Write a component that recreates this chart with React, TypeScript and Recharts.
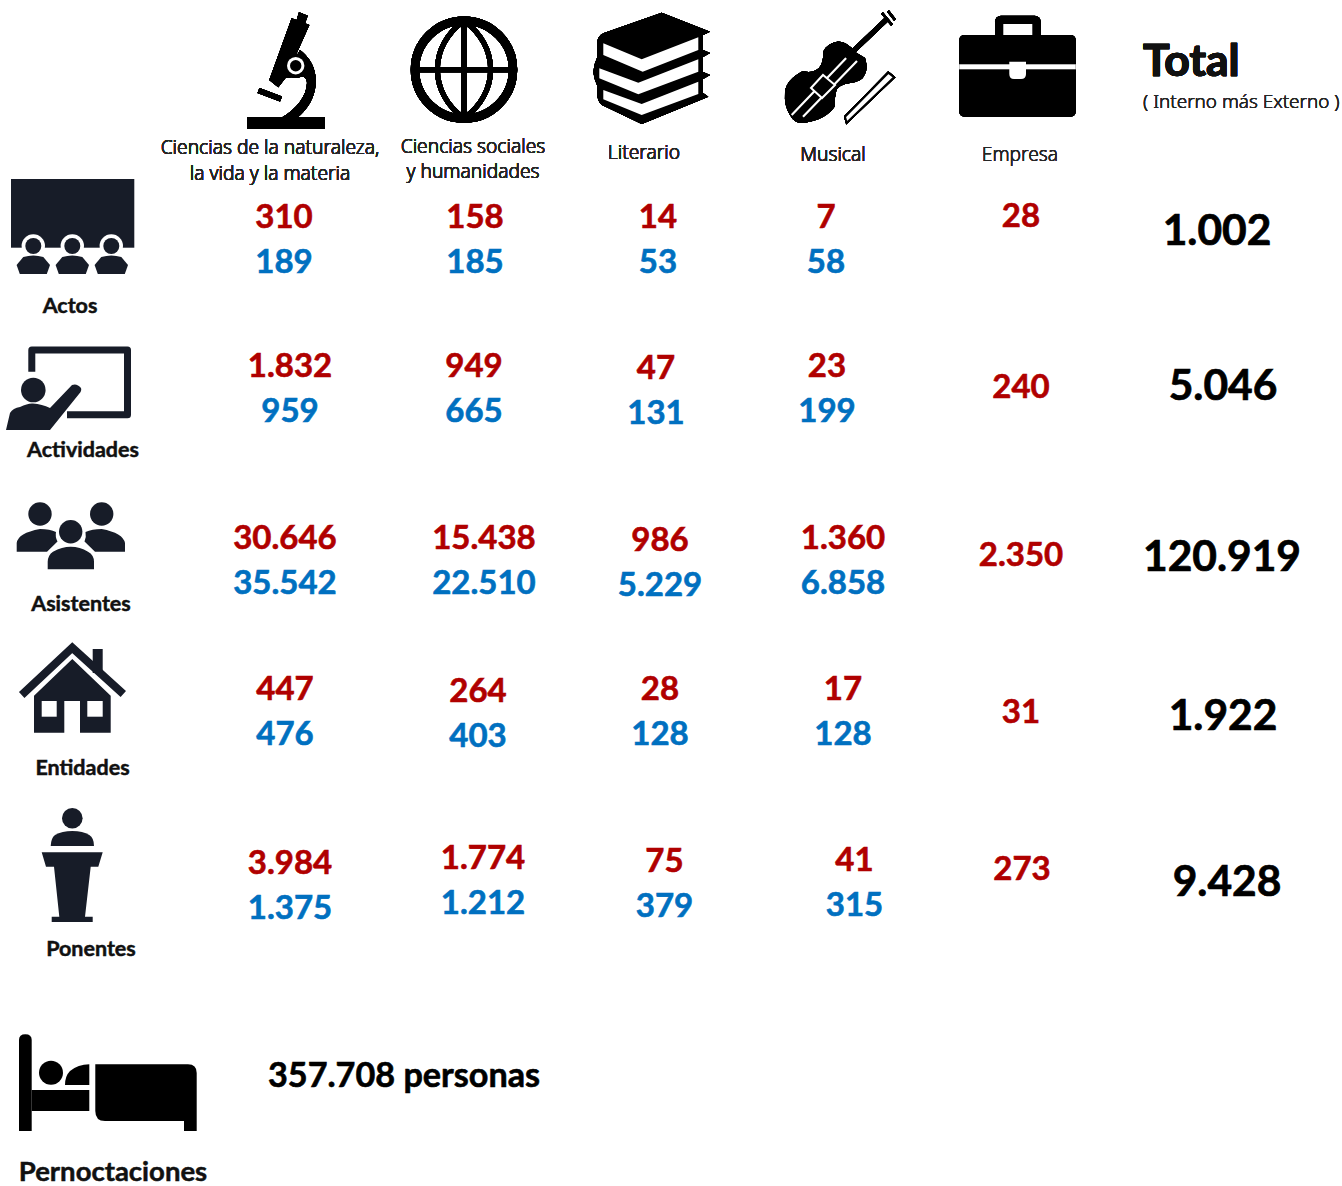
import React from 'react';
import { ScatterChart, Scatter, XAxis, YAxis } from 'recharts';

const columns = ['Naturaleza', 'Sociales', 'Literario', 'Musical', 'Empresa', 'Total'];
const rows = ['Actos', 'Actividades', 'Asistentes', 'Entidades', 'Ponentes', 'Pernoctaciones'];

// one list per row, in column order
const interno = [
  [310, 158, 14, 7, 28],
  [1832, 949, 47, 23, 240],
  [30646, 15438, 986, 1360, 2350],
  [447, 264, 28, 17, 31],
  [3984, 1774, 75, 41, 273],
];
const externo = [
  [189, 185, 53, 58],
  [959, 665, 131, 199],
  [35542, 22510, 5229, 6858],
  [476, 403, 128, 128],
  [1375, 1212, 379, 315],
];
const totals = [1002, 5046, 120919, 1922, 9428];
const pernoctaciones = 357708;

const RED = '#b00000';
const BLUE = '#0070c0';
const NAVY = '#171c28';
const BOLD_FONT = 'Lato, sans-serif';
const LIGHT_FONT = '"Noto Sans", sans-serif';

// The reference is hand placed, so every cell sits a little off the grid: [dx, dy]
const cellNudge = [
  [[0, -1], [4, -1], [0, -1], [-19, -1], [-11, -24], [-2, -10]],
  [[6, -19], [3, -19], [-2, -17], [-18, -19], [-11, -20], [4, -21.5]],
  [[1, -14.5], [13, -14.5], [2, -12.5], [-2, -14.5], [-11, -20], [3, -18.5]],
  [[1, -31], [7, -28.5], [2, -31], [-2, -31], [-11, -30.5], [4, -27]],
  [[6, -24.5], [12, -29.5], [6.5, -26.5], [9.5, -27.5], [-10, -41], [8, -28.5]],
];

const format = (v: number) => String(v).replace(/\B(?=(\d{3})+$)/g, '.');

const toPoints = (table: number[][]) =>
  table.flatMap((list, r) => list.map((value, c) => ({ column: columns[c], row: rows[r], value })));

const internoData = toPoints(interno);
const externoData = toPoints(externo);
const totalData = totals.map((value, r) => ({ column: 'Total', row: rows[r], value }));
const stayData = [{ column: columns[0], row: rows[5], value: pernoctaciones }];

// Lato bold is lighter than the reference face, a thin outline brings it closer
const heavy = (color: string, width = 0.6) => ({
  fontFamily: BOLD_FONT,
  fontWeight: 700,
  fill: color,
  stroke: color,
  strokeWidth: width,
});

const valueShape = (color: string, offset: number) => (props: any) => {
  const { column, row, value } = props.payload;
  const c = columns.indexOf(column);
  const r = rows.indexOf(row);
  const [dx, dy] = cellNudge[r][c];
  // Empresa has a single figure in the middle of its row
  const shift = c === 4 ? 0 : offset;
  return (
    <text
      x={props.cx + dx}
      y={props.cy + dy + shift}
      textAnchor="middle"
      dominantBaseline="central"
      fontSize={33}
      {...heavy(color)}
    >
      {format(value)}
    </text>
  );
};

const totalShape = (props: any) => {
  const r = rows.indexOf(props.payload.row);
  const [dx, dy] = cellNudge[r][5];
  return (
    <text
      x={props.cx + dx}
      y={props.cy + dy}
      textAnchor="middle"
      dominantBaseline="central"
      fontSize={42.5}
      {...heavy('#000', 0.7)}
    >
      {format(props.payload.value)}
    </text>
  );
};

const stayShape = (props: any) => (
  <text x={props.cx - 16} y={props.cy - 1.5} dominantBaseline="central" fontSize={34.2} {...heavy('#000')}>
    {format(props.payload.value)} personas
  </text>
);

// Icons are traced in page coordinates
const Microscope = () => (
  <g fill="#000">
    <rect x={247} y={117.5} width={78} height={11} />
    <path d="M300,50 C315,62 316,75 315.7,83 C315,98 307,110 297,118 L281,118 C297,109 307,95 307,83 C307,78 304,76 300,76 L285,78 Z" />
    <path d="M299,12.3 L307.7,15.7 L305,23.3 L296.7,20 Z" />
    <path d="M291.7,18.3 L309.3,25 L286,77.3 L278.3,87.3 L269.3,80 Z" />
    <circle cx={295.7} cy={65.7} r={12} />
    <circle cx={295.7} cy={65.7} r={8.7} fill="#fff" />
    <circle cx={295.7} cy={65.7} r={5.7} />
    <path d="M258.5,90.5 L281,99" stroke="#000" strokeWidth={5.5} />
  </g>
);

const Globe = () => (
  <g fill="none" stroke="#000">
    <circle cx={464} cy={69.7} r={49} strokeWidth={8.5} />
    <path d="M464,21 C428.5,46 428.5,93 464,118 C499.5,93 499.5,46 464,21" strokeWidth={5} />
    <path d="M464,21 L464,118 M415,69.7 L513,69.7" strokeWidth={5} />
  </g>
);

const Books = () => (
  <g>
    <path
      d="M661.7,12.7 L710,31.7 L703,35 L703,50 L710,53 L703,57 L703,72 L710,75 L703,79 L703,93 L708.3,96.7 L641.7,124 L602,105 Q597,101 597,92 L597,85 Q590,72 597,58 L597,44 Q597,36 604,33 Z"
      fill="#000"
    />
    <path d="M603.3,43.3 L641.7,59.3 L698.3,37.3 L698.3,50 L642.7,71.7 L603.3,55 Z" fill="#fff" />
    <path d="M599.3,68.3 L638.3,82.7 L698.3,59.3 L698.3,71.7 L638.3,94.3 L599.3,78.3 Z" fill="#fff" />
    <path d="M603.3,90 L641.7,104 L698.3,81.7 L698.3,94 L641.7,115 L603.3,99.3 Z" fill="#fff" />
  </g>
);

const Violin = () => (
  <g>
    <path
      d="M823,52 Q826,44 838,41.5 Q848,42 855,52 L865,58 Q868,68 865,74 Q862,82 850,83 Q837,85 836,92 Q834,99 835,106 Q826,120 803,123 Q795,124 790,115 Q784,106 785,92 Q786,80 803,71 Q812,74 819,68 Q824,62 823,52 Z"
      fill="#000"
    />
    <path d="M791.7,115 L851,53 M803,116.7 L857,61" stroke="#fff" strokeWidth={2.2} />
    <path d="M846,58 L887,19" stroke="#000" strokeWidth={5} />
    <path d="M882,13 L892,25 M888,11 L895,20" stroke="#000" strokeWidth={2.5} />
    <path d="M811,88 L823,75 L835,85 L822,98 Z" fill="#000" stroke="#fff" strokeWidth={2} />
    <path d="M845,116.7 L888.3,72.7 L894,77.3 L846.7,122.7 Z" fill="#fff" stroke="#000" strokeWidth={2} />
  </g>
);

const Briefcase = () => (
  <g>
    <rect x={995} y={15.7} width={45.7} height={30} rx={6} fill="#000" />
    <rect x={1003.3} y={24} width={29} height={14} fill="#fff" />
    <rect x={959.3} y={35} width={116.4} height={81.7} rx={5} fill="#000" />
    <rect x={959.3} y={64.3} width={116.4} height={5} fill="#fff" />
    <path d="M1009.3,61.7 L1026,61.7 L1026,74 Q1026,79 1021,79 L1014,79 Q1009.3,79 1009.3,74 Z" fill="#fff" />
  </g>
);

const Person = ({ cx }: { cx: number }) => (
  <g>
    <circle cx={cx} cy={246} r={11.7} fill="#fff" />
    <circle cx={cx} cy={246} r={8} fill={NAVY} />
    <path
      d={`M${cx - 16.7},265 L${cx - 10},257 Q${cx},254 ${cx + 10},257 L${cx + 16.7},265 L${cx + 13.5},274 L${cx - 13.5},274 Z`}
      fill={NAVY}
    />
  </g>
);

const Actos = () => (
  <g>
    <rect x={11} y={179} width={123.3} height={68.7} fill={NAVY} />
    <Person cx={33.3} />
    <Person cx={72.3} />
    <Person cx={111.3} />
  </g>
);

const Actividades = () => (
  <g fill={NAVY}>
    <path
      d="M31.8,371.7 L31.8,350 L127.5,350 L127.5,414.7 L67,414.7"
      fill="none"
      stroke={NAVY}
      strokeWidth={7}
      strokeLinejoin="round"
    />
    <circle cx={33.3} cy={390} r={12.3} />
    <path d="M6,430 L10,413 Q13,408 20,407 Q28,403 33,403.5 Q42,404 50,408 L72,385 Q77,383 81,388 Q82,391 79,394 L50,430 Z" />
  </g>
);

const Asistentes = () => (
  <g fill={NAVY}>
    <circle cx={40} cy={514} r={11.7} />
    <circle cx={101.7} cy={514} r={11.7} />
    <circle cx={70.7} cy={531.7} r={11.7} />
    <path d="M16.7,551.7 L16.7,543 Q18,533 40,529 Q50,529 56,532 Q55,537 57.5,541.5 L47,551.7 Z" />
    <path d="M125,551.7 L125,543 Q123,533 101.7,529 Q92,529 85.5,532 Q86.5,537 84.5,541.5 L95,551.7 Z" />
    <path d="M47.7,569.3 L47.7,561.7 Q48,555 53,551.7 Q62,546.7 70.7,546.7 Q80,546.7 88,551.7 Q94,555 94,561.7 L94,569.3 Z" />
  </g>
);

const Entidades = () => (
  <g fill={NAVY}>
    <rect x={92.7} y={649} width={10} height={24} />
    <path d="M21.7,695 L72.3,647.7 L123.3,694" fill="none" stroke={NAVY} strokeWidth={8} />
    <path d="M34,695.7 L72.3,659 L110.7,695.7 L110.7,732.7 L80,732.7 L80,701 L64.3,701 L64.3,732.7 L34,732.7 Z" />
    <rect x={41.7} y={701} width={15} height={15.7} fill="#fff" />
    <rect x={87.3} y={701} width={15.4} height={15.7} fill="#fff" />
  </g>
);

const Ponentes = () => (
  <g fill={NAVY}>
    <circle cx={72.3} cy={818.3} r={10.3} />
    <path d="M50.7,846 Q51,838 55,835 Q62,831 72.3,831 Q83,831 89.3,835 Q94,838 94,846 Z" />
    <path d="M41.7,852.3 L102.7,852.3 L98.3,866.7 L90.7,866.7 L85,916.7 L92.7,916.7 L92.7,922 L51.7,922 L51.7,916.7 L59.3,916.7 L54,866.7 L46,866.7 Z" />
  </g>
);

const Bed = () => (
  <g fill="#000">
    <path d="M19,1040 Q19,1034.3 25.3,1034.3 Q31.7,1034.3 31.7,1040 L31.7,1131 L19,1131 Z" />
    <rect x={31.7} y={1090} width={57.6} height={21} />
    <circle cx={51} cy={1072.7} r={12} />
    <path d="M65,1085 Q65,1076 70,1071 Q78,1064.5 89.3,1064.3 L89.3,1085 Z" />
    <path d="M95.3,1064.3 L188,1064.3 Q196.7,1064.3 196.7,1073 L196.7,1131 L184,1131 L184,1121 L105,1121 Q95.3,1121 95.3,1111 Z" />
  </g>
);

const headerIcons = [Microscope, Globe, Books, Violin, Briefcase, null];
// [dx from the column, baseline, text]
const headerLabels: [number, number, string][][] = [
  [[-14, 154, 'Ciencias de la naturaleza,'], [-14, 180, 'la vida y la materia']],
  [[2, 153, 'Ciencias sociales'], [2, 178, 'y humanidades']],
  [[-14, 159, 'Literario']],
  [[-12, 161, 'Musical']],
  [[-12, 161, 'Empresa']],
  [],
];
const rowIcons = [Actos, Actividades, Asistentes, Entidades, Ponentes, Bed];
const rowLabels: [number, number, number][] = [
  [70, 313, 21.5],
  [83, 457, 21.5],
  [81, 611, 21.5],
  [82.5, 775, 21.5],
  [91, 956, 21.5],
  [113, 1181, 27.5],
];

const ColumnTick = (props: any) => {
  const i = columns.indexOf(props.payload.value);
  const Icon = headerIcons[i];
  return (
    <g>
      {Icon && <Icon />}
      {headerLabels[i].map(([dx, y, text]) => (
        <text key={text} x={props.x + dx} y={y} textAnchor="middle" fontFamily={LIGHT_FONT} fontWeight={300} fontSize={19.2} fill="#262626">
          {text}
        </text>
      ))}
      {props.payload.value === 'Total' && (
        <g>
          <text x={props.x - 76} y={76} fontSize={44.5} {...heavy('#111', 0.7)}>
            Total
          </text>
          <text x={props.x - 76} y={108} fontFamily={LIGHT_FONT} fontWeight={300} fontSize={18.9} fill="#262626">
            ( Interno más Externo )
          </text>
        </g>
      )}
    </g>
  );
};

const RowTick = (props: any) => {
  const i = rows.indexOf(props.payload.value);
  const Icon = rowIcons[i];
  const [x, y, size] = rowLabels[i];
  return (
    <g>
      <Icon />
      <text x={x} y={y} textAnchor="middle" fontSize={size} {...heavy('#111', 0.5)}>
        {props.payload.value}
      </text>
    </g>
  );
};

export default function App() {
  return (
    <div style={{ position: 'absolute', left: 0, top: 0, width: 1342, height: 1186, background: '#fff' }}>
      <ScatterChart width={1342} height={1186} margin={{ top: 0, right: 123, bottom: 111, left: 0 }}>
        <XAxis
          xAxisId="col"
          dataKey="column"
          type="category"
          orientation="top"
          allowDuplicatedCategory={false}
          scale="point"
          height={238}
          interval={0}
          axisLine={false}
          tickLine={false}
          tick={ColumnTick}
        />
        <YAxis
          yAxisId="row"
          dataKey="row"
          type="category"
          reversed
          allowDuplicatedCategory={false}
          scale="point"
          width={284}
          interval={0}
          axisLine={false}
          tickLine={false}
          tick={RowTick}
        />
        <Scatter xAxisId="col" yAxisId="row" name="Interno" data={internoData} shape={valueShape(RED, -22.5)} isAnimationActive={false} />
        <Scatter xAxisId="col" yAxisId="row" name="Externo" data={externoData} shape={valueShape(BLUE, 22.5)} isAnimationActive={false} />
        <Scatter xAxisId="col" yAxisId="row" name="Total" data={totalData} shape={totalShape} isAnimationActive={false} />
        <Scatter xAxisId="col" yAxisId="row" name="Pernoctaciones" data={stayData} shape={stayShape} isAnimationActive={false} />
      </ScatterChart>
    </div>
  );
}
